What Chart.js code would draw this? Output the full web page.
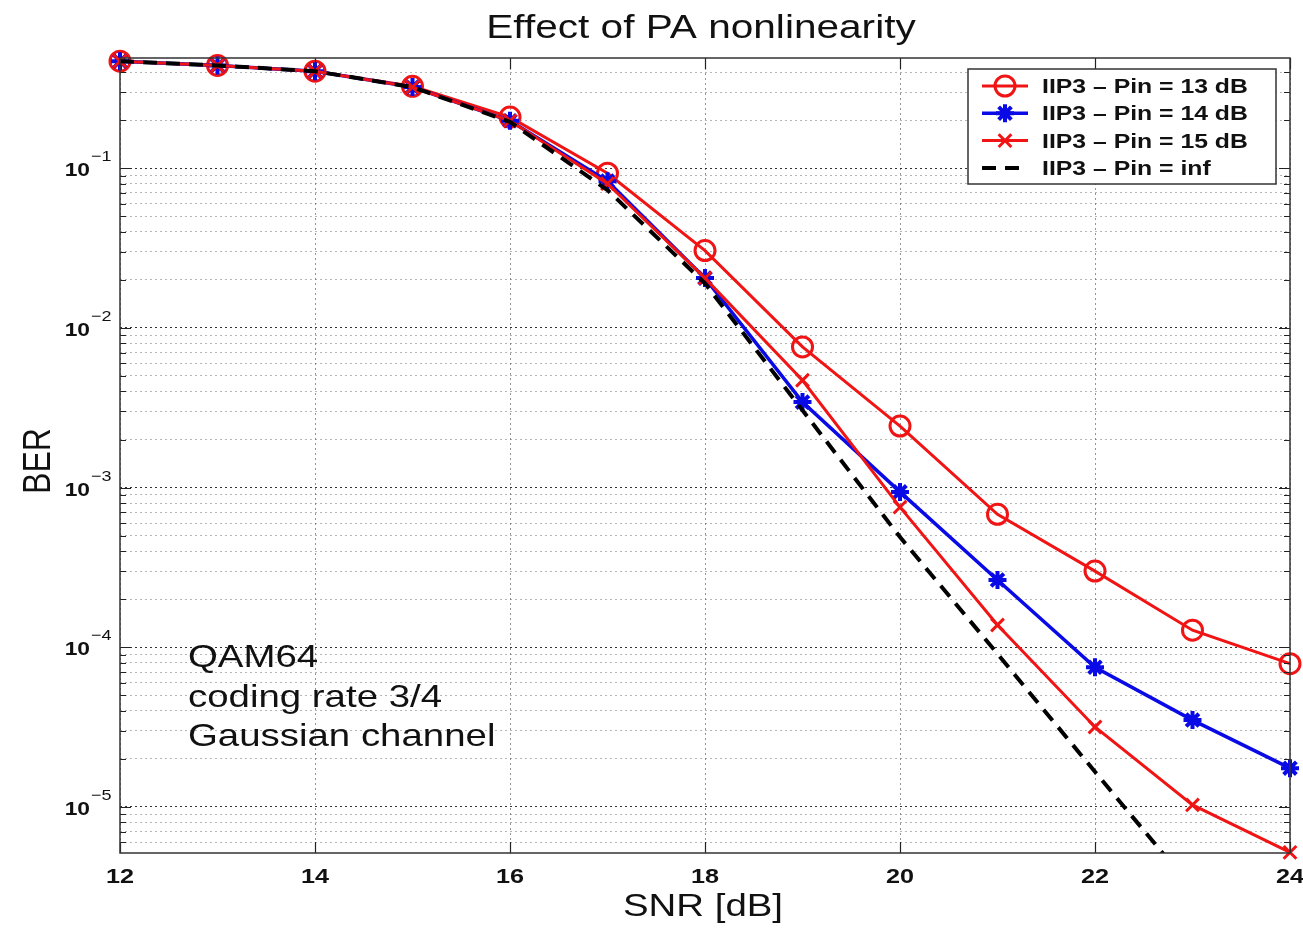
<!DOCTYPE html>
<html>
<head>
<meta charset="utf-8">
<title>Effect of PA nonlinearity</title>
<script src="https://cdn.jsdelivr.net/npm/chart.js@4.4.1/dist/chart.umd.min.js"></script>
<style>
  html, body { margin: 0; padding: 0; background: #fff; }
</style>
</head>
<body>
<canvas id="berChart" width="1303" height="928"></canvas>
<script>
// SNR points (dB) and BER
const snr    = [12, 13, 14, 15, 16, 17, 18, 19, 20, 21, 22, 23, 24];
const ber13  = [0.468, 0.44, 0.405, 0.326, 0.209, 0.093, 0.0305, 0.0076, 0.00243, 6.8e-4, 3.0e-4, 1.28e-4, 7.9e-5];
const ber14  = [0.468, 0.44, 0.405, 0.322, 0.198, 0.083, 0.0205, 0.00343, 9.4e-4, 2.64e-4, 7.5e-5, 3.5e-5, 1.75e-5];
const ber15  = [0.468, 0.44, 0.405, 0.322, 0.198, 0.080, 0.0205, 0.0047, 7.55e-4, 1.38e-4, 3.17e-5, 1.03e-5, 5.2e-6];
const berInf = [0.468, 0.44, 0.405, 0.322, 0.195, 0.073, 0.019, 0.00305, 4.9e-4, 9.1e-5, 1.66e-5, 3.07e-6, null];

const seriesLabels = ['IIP3 \u2013 Pin = 13 dB', 'IIP3 \u2013 Pin = 14 dB', 'IIP3 \u2013 Pin = 15 dB', 'IIP3 \u2013 Pin = inf'];
const xTicks = [12, 14, 16, 18, 20, 22, 24];
const yExponents = [-1, -2, -3, -4, -5];
const noteLines = ['QAM64', 'coding rate 3/4', 'Gaussian channel'];

const Y_MIN = 5.15e-6, Y_MAX = 0.49;
const SX = 1.2; // the source image is stretched horizontally

// every 1..9 x 10^n inside the range, for the minor grid
const yGridVals = [];
for (let e = -6; e <= 0; e++) {
  for (let m = 1; m <= 9; m++) {
    const v = m * Math.pow(10, e);
    if (v >= Y_MIN && v <= Y_MAX) yGridVals.push(v);
  }
}
const isDecade = v => Math.abs(Math.log10(v) - Math.round(Math.log10(v))) < 1e-6;

const pts = arr => snr.map((x, i) => ({ x: x, y: arr[i] }));

function sText(ctx, txt, x, y, align, sx) {
  ctx.save();
  ctx.translate(x, y);
  ctx.scale(sx || SX, 1);
  ctx.textAlign = align;
  ctx.fillText(txt, 0, 0);
  ctx.restore();
}

const decor = {
  id: 'decor',
  afterDraw(chart) {
    const ctx = chart.ctx;
    const a = chart.chartArea;
    const xs = chart.scales.x, ys = chart.scales.y;
    ctx.save();

    // inward tick marks
    ctx.strokeStyle = '#222';
    ctx.lineWidth = 1.2;
    ctx.beginPath();
    yGridVals.forEach(v => {
      const y = Math.round(ys.getPixelForValue(v)) + 0.5;
      const len = isDecade(v) ? 11 : 6;
      ctx.moveTo(a.left, y); ctx.lineTo(a.left + len, y);
      ctx.moveTo(a.right, y); ctx.lineTo(a.right - len, y);
    });
    xTicks.forEach(v => {
      const x = Math.round(xs.getPixelForValue(v)) + 0.5;
      ctx.moveTo(x, a.bottom); ctx.lineTo(x, a.bottom - 11);
      ctx.moveTo(x, a.top); ctx.lineTo(x, a.top + 11);
    });
    ctx.stroke();

    // axes box
    ctx.strokeStyle = '#333';
    ctx.lineWidth = 1.5;
    ctx.strokeRect(a.left, a.top, a.right - a.left, a.bottom - a.top);

    ctx.fillStyle = '#111';
    ctx.textBaseline = 'alphabetic';

    // x tick labels
    ctx.font = 'bold 21px "Liberation Sans", Arial, sans-serif';
    xTicks.forEach(v => sText(ctx, String(v), xs.getPixelForValue(v), 883, 'center'));

    // y tick labels 10^n
    yExponents.forEach(e => {
      const y = ys.getPixelForValue(Math.pow(10, e));
      ctx.font = 'bold 19px "Liberation Sans", Arial, sans-serif';
      sText(ctx, '10', 90, y + 8, 'right');
      ctx.font = '15px "Liberation Sans", Arial, sans-serif';
      sText(ctx, '\u2212' + Math.abs(e), 91, y - 7, 'left');
    });

    // title and axis titles
    ctx.font = '33px "Liberation Sans", Arial, sans-serif';
    sText(ctx, 'Effect of PA nonlinearity', 701, 38, 'center', 1.23);
    ctx.font = '32px "Liberation Sans", Arial, sans-serif';
    sText(ctx, 'SNR [dB]', 703, 916, 'center');
    ctx.save();
    ctx.translate(50, 461);
    ctx.rotate(-Math.PI / 2);
    ctx.scale(1, SX);
    ctx.textAlign = 'center';
    ctx.fillText('BER', 0, 0);
    ctx.restore();

    // annotation
    noteLines.forEach((t, i) => sText(ctx, t, 188, 667 + i * 39.5, 'left'));

    // legend
    const lx = 968, ly = 69, lw = 308, lh = 115;
    ctx.fillStyle = '#fff';
    ctx.fillRect(lx, ly, lw, lh);
    ctx.strokeStyle = '#333';
    ctx.lineWidth = 1.5;
    ctx.strokeRect(lx, ly, lw, lh);
    chart.data.datasets.forEach((ds, i) => {
      const y = 86 + i * 27.3;
      ctx.save();
      ctx.strokeStyle = ds.borderColor;
      ctx.lineWidth = ds.borderWidth;
      ctx.setLineDash(ds.borderDash || []);
      ctx.beginPath();
      ctx.moveTo(982, y); ctx.lineTo(1028, y);
      ctx.stroke();
      ctx.setLineDash([]);
      if (ds.pointRadius > 0) {
        ctx.strokeStyle = ds.borderColor;
        ctx.fillStyle = ds.pointBackgroundColor;
        ctx.lineWidth = ds.pointBorderWidth;
        Chart.helpers.drawPoint(ctx, {
          pointStyle: ds.pointStyle, radius: ds.pointRadius,
          borderWidth: ds.pointBorderWidth, rotation: 0
        }, 1005, y);
      }
      ctx.restore();
      ctx.fillStyle = '#111';
      ctx.font = 'bold 21px "Liberation Sans", Arial, sans-serif';
      sText(ctx, seriesLabels[i], 1042, y + 7, 'left', 1.18);
    });

    ctx.restore();
  }
};

new Chart(document.getElementById('berChart'), {
  type: 'line',
  data: {
    datasets: [
      {
        label: seriesLabels[0], data: pts(ber13), order: 3, clip: false,
        borderColor: '#f01414', borderWidth: 3,
        pointStyle: 'circle', pointRadius: 10, pointBorderWidth: 3,
        pointBackgroundColor: 'rgba(0,0,0,0)', pointBorderColor: '#f01414'
      },
      {
        label: seriesLabels[1], data: pts(ber14), order: 2, clip: false,
        borderColor: '#0a0ae6', borderWidth: 3.5,
        pointStyle: 'star', pointRadius: 9, pointBorderWidth: 4,
        pointBackgroundColor: '#0a0ae6', pointBorderColor: '#0a0ae6'
      },
      {
        label: seriesLabels[2], data: pts(ber15), order: 1, clip: false,
        borderColor: '#f01414', borderWidth: 3,
        pointStyle: 'crossRot', pointRadius: 9, pointBorderWidth: 3,
        pointBackgroundColor: '#f01414', pointBorderColor: '#f01414'
      },
      {
        label: seriesLabels[3], data: pts(berInf), order: 0,
        borderColor: '#000', borderWidth: 4, borderDash: [14, 9],
        pointRadius: 0
      }
    ]
  },
  options: {
    responsive: false,
    animation: false,
    layout: { padding: { top: 58, right: 13, bottom: 0, left: 0 } },
    plugins: {
      legend: { display: false },
      title: { display: false },
      tooltip: { enabled: false }
    },
    elements: { line: { tension: 0 } },
    scales: {
      x: {
        type: 'linear', min: 12, max: 24,
        ticks: { display: false, stepSize: 2 },
        afterBuildTicks: s => { s.ticks = xTicks.map(v => ({ value: v })); },
        grid: { color: 'rgba(60,60,60,0.55)', lineWidth: 1, drawTicks: false },
        border: { display: false, dash: [2, 3] },
        afterFit: s => { s.height = 75; }
      },
      y: {
        type: 'logarithmic', min: Y_MIN, max: Y_MAX,
        ticks: { display: false },
        afterBuildTicks: s => { s.ticks = yGridVals.map(v => ({ value: v })); },
        grid: {
          color: c => (c.tick && isDecade(c.tick.value)) ? 'rgba(0,0,0,0.8)' : 'rgba(90,90,90,0.45)',
          lineWidth: 1, drawTicks: false
        },
        border: { display: false, dash: [2, 3] },
        afterFit: s => { s.width = 120; }
      }
    }
  },
  plugins: [decor]
});
</script>
</body>
</html>
